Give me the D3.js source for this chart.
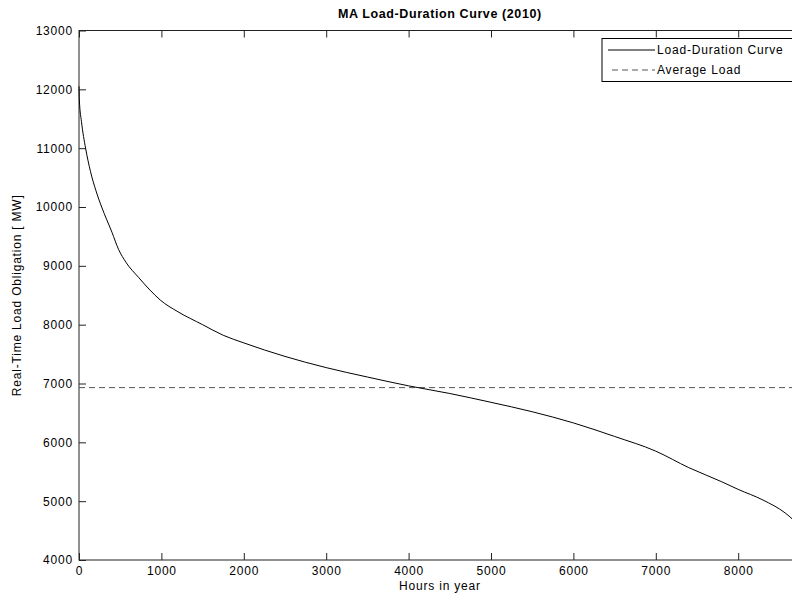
<!DOCTYPE html>
<html><head><meta charset="utf-8">
<script src="https://cdn.jsdelivr.net/npm/d3@7"></script>
<style>
html,body{margin:0;padding:0;background:#fff;overflow:hidden;}
svg{display:block;}
text{font-family:"Liberation Sans",Arial,sans-serif;font-size:12px;letter-spacing:0.8px;fill:#000;}
</style></head><body>
<svg id="c" width="792" height="601"></svg>
<script>
const title = "MA Load-Duration Curve (2010)";
const xLabel = "Hours in year";
const yLabel = "Real-Time Load Obligation  [ MW]";
const legendLabels = ["Load-Duration Curve", "Average Load"];
const xTicks = [0,1000,2000,3000,4000,5000,6000,7000,8000];
const yTicks = [4000,5000,6000,7000,8000,9000,10000,11000,12000,13000];
const hours = [0,5,30,80,140,205,275,400,480,570,725,860,985,1200,1500,1750,2000,2500,3000,3500,4000,4500,5000,5500,6000,6500,7000,7400,7800,8000,8300,8570,8760];
const load  = [12050,11800,11450,11000,10600,10280,10000,9570,9280,9060,8800,8590,8420,8220,8000,7820,7690,7460,7270,7110,6960,6830,6680,6520,6330,6100,5850,5570,5330,5200,5020,4800,4560];
const averageLoad = 6930;

const svg = d3.select("#c");
const L = 79, T = 30.5, B = 560, R = 79 + 8760*0.0824;
const x = d3.scaleLinear().domain([0,8760]).range([L,R]);
const y = d3.scaleLinear().domain([4000,13000]).range([B,T]);

const g = svg.append("g");
g.append("rect").attr("x",L).attr("y",T).attr("width",R-L).attr("height",B-T)
 .attr("fill","none").attr("stroke","#222").attr("stroke-width",1);

const tk = 7;
const xb = d3.axisBottom(x).tickValues(xTicks).tickSize(-tk).tickPadding(6).tickFormat(d3.format("d"));
g.append("g").attr("transform",`translate(0,${B})`).call(xb);
const xt = d3.axisTop(x).tickValues(xTicks).tickSize(-tk).tickFormat("");
g.append("g").attr("transform",`translate(0,${T})`).call(xt);
const yl = d3.axisLeft(y).tickValues(yTicks).tickSize(-tk).tickPadding(6).tickFormat(d3.format("d"));
g.append("g").attr("transform",`translate(${L},0)`).call(yl);
const yr = d3.axisRight(y).tickValues(yTicks).tickSize(-tk).tickFormat("");
g.append("g").attr("transform",`translate(${R},0)`).call(yr);
g.selectAll(".domain").remove();
g.selectAll(".tick line").attr("stroke","#222");
g.selectAll(".tick text").attr("font-size",null).attr("font-family",null).attr("fill","#000");

g.append("line").attr("x1",x(0)).attr("x2",x(8760)).attr("y1",y(averageLoad)).attr("y2",y(averageLoad))
 .attr("stroke","#555").attr("stroke-width",1).attr("stroke-dasharray","6,4");

const line = d3.line().x((d,i)=>x(hours[i])).y(d=>y(d)).curve(d3.curveMonotoneX);
g.append("path").datum(load).attr("d",line).attr("fill","none").attr("stroke","#000").attr("stroke-width",1);

svg.append("text").attr("x",(L+R)/2).attr("y",18).attr("text-anchor","middle")
 .attr("font-weight","bold").style("letter-spacing","0.6px").style("font-size","12.5px").text(title);
svg.append("text").attr("x",(L+R)/2).attr("y",590).attr("text-anchor","middle").text(xLabel);
svg.append("text").attr("transform",`translate(21,${(T+B)/2}) rotate(-90)`).attr("text-anchor","middle").text(yLabel);

const lg = svg.append("g");
lg.append("rect").attr("x",602).attr("y",38.5).attr("width",196).attr("height",43)
 .attr("fill","#fff").attr("stroke","#000").attr("stroke-width",1);
lg.append("line").attr("x1",608).attr("x2",655).attr("y1",50).attr("y2",50).attr("stroke","#000");
lg.append("line").attr("x1",612).attr("x2",655).attr("y1",70).attr("y2",70).attr("stroke","#555").attr("stroke-dasharray","6,4");
lg.append("text").attr("x",657).attr("y",54).text(legendLabels[0]);
lg.append("text").attr("x",657).attr("y",74).text(legendLabels[1]);
</script>
</body></html>
